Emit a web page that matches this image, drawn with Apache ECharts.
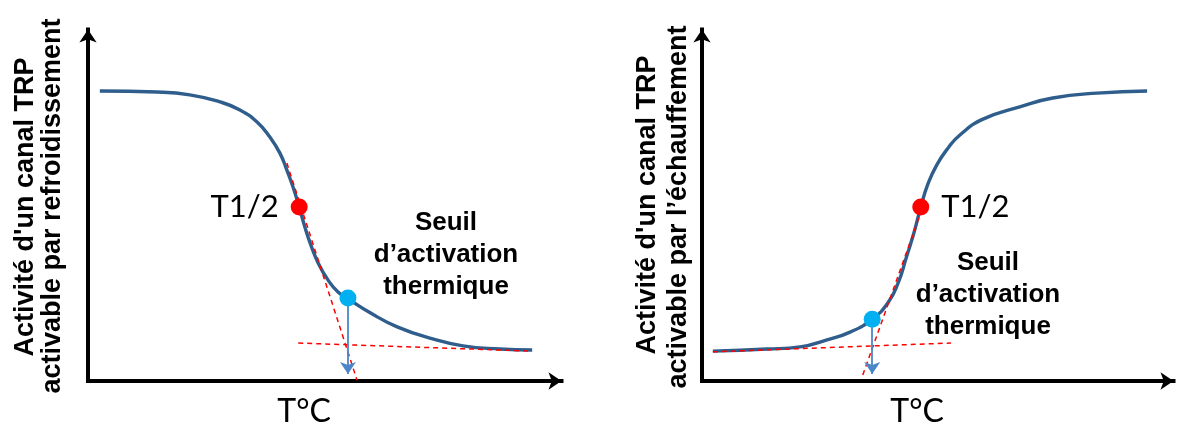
<!DOCTYPE html>
<html><head><meta charset="utf-8">
<script src="https://cdn.jsdelivr.net/npm/echarts@6/dist/echarts.min.js"></script>
<style>html,body{margin:0;padding:0;background:#fff}#c{width:1180px;height:426px}</style>
</head><body><div id="c"></div>
<script>
// ---------- Left panel: channel activated by cooling ----------
const coldX = [2.5, 14.6, 21.5, 27.9, 32.1, 35.7, 38.4, 40.5, 42.0, 43.3, 44.6, 45.8, 46.9, 48.6, 50.7, 52.8, 54.9, 59.6, 65.3, 72.2, 79.2, 87.0, 93.8];
const coldY = [82.5, 82.2, 81.4, 79.4, 77.1, 73.7, 69.4, 64.9, 60.0, 55.2, 49.5, 43.8, 39.3, 33.6, 28.7, 25.3, 23.4, 19.4, 15.4, 12.2, 10.0, 9.1, 8.8];
const coldHalf = [44.6, 49.5];
const coldThreshold = [54.9, 23.6];
const coldTangentX = [42.0, 56.8];
const coldTangentY = [62.0, 0.3];
const coldBaseX = [44.4, 93.8];
const coldBaseY = [10.8, 8.5];
const coldArrowEndY = 2.0;

// ---------- Right panel: channel activated by warming ----------
const warmX = [2.3, 13.8, 20.8, 26.5, 31.4, 36.1, 39.4, 41.6, 43.3, 45.0, 46.4, 47.9, 49.8, 52.2, 54.7, 59.6, 67.4, 74.4, 83.8, 94.4];
const warmY = [8.5, 9.1, 9.7, 11.7, 13.9, 17.6, 22.2, 27.9, 35.0, 42.4, 49.5, 56.0, 61.5, 66.3, 70.0, 74.5, 78.0, 80.5, 81.9, 82.5];
const warmHalf = [46.4, 49.5];
const warmThreshold = [36.1, 17.6];
const warmTangentX = [34.1, 46.2];
const warmTangentY = [1.7, 47.2];
const warmBaseX = [2.3, 52.8];
const warmBaseY = [8.3, 10.8];
const warmArrowEndY = 2.0;

// ---------- Texts ----------
const yLabelCold = ["Activité d'un canal TRP", "activable par refroidissement"];
const yLabelWarm = ["Activité d'un canal TRP", "activable par l’échauffement"];
const halfLabel = "T1/2";
const thresholdLabel = ["Seuil", "d’activation", "thermique"];
const xLabel = "T°C";

const zip = (xs, ys) => xs.map((x, i) => [x, ys[i]]);

const CURVE = '#2f5d8c';
const RED = '#ff0000';
const CYAN = '#00b0f0';
const ARROW = '#4a86c8';

function axisPair(idx) {
  return {
    type: 'value', gridIndex: idx, min: 0, max: 100,
    axisLine: { show: true, symbol: ['none', 'arrow'], symbolSize: [13, 13],
      lineStyle: { color: '#000', width: 4, cap: 'square' } },
    axisTick: { show: false }, axisLabel: { show: false }, splitLine: { show: false }
  };
}

function panelSeries(idx, xs, ys, half, thr, tx, ty, bx, by, arrowEnd, halfPos) {
  return [
    { type: 'line', xAxisIndex: idx, yAxisIndex: idx, data: zip(xs, ys), symbol: 'none',
      smooth: 0.5, lineStyle: { color: CURVE, width: 3.4 }, z: 2 },
    { type: 'line', xAxisIndex: idx, yAxisIndex: idx, data: zip(tx, ty), symbol: 'none',
      lineStyle: { color: RED, width: 1.5, type: [5, 4] }, z: 3 },
    { type: 'line', xAxisIndex: idx, yAxisIndex: idx, data: zip(bx, by), symbol: 'none',
      lineStyle: { color: RED, width: 1.5, type: [5, 4] }, z: 3 },
    { type: 'lines', coordinateSystem: 'cartesian2d', xAxisIndex: idx, yAxisIndex: idx,
      symbol: ['none', 'arrow'], symbolSize: [11, 12],
      lineStyle: { color: ARROW, width: 1.8, opacity: 1 },
      data: [{ coords: [thr, [thr[0], arrowEnd]] }], z: 4 },
    { type: 'scatter', xAxisIndex: idx, yAxisIndex: idx, data: [half], symbolSize: 17,
      itemStyle: { color: RED, opacity: 1 }, z: 6,
      label: { show: true, formatter: halfLabel, position: halfPos, distance: 12,
        fontFamily: 'Lato', fontSize: 31, color: '#000' } },
    { type: 'scatter', xAxisIndex: idx, yAxisIndex: idx, data: [thr], symbolSize: 17,
      itemStyle: { color: CYAN, opacity: 1 }, z: 6 }
  ];
}

function vText(str, x, y) {
  return { type: 'text', x: x, y: y, rotation: Math.PI / 2,
    style: { text: str, x: 0, y: 0, align: 'center', verticalAlign: 'middle',
      font: 'bold 27px "Liberation Sans", Arial, sans-serif', fill: '#000' } };
}
function hText(str, x, y, font) {
  return { type: 'text', x: x, y: y,
    style: { text: str, align: 'center', verticalAlign: 'middle', font: font, fill: '#000' } };
}
const BOLD = 'bold 26px "Liberation Sans", Arial, sans-serif';
const REG = '32px Lato, sans-serif';

const chart = echarts.init(document.getElementById('c'), null, { renderer: 'canvas' });
chart.setOption({
  animation: false,
  backgroundColor: '#fff',
  grid: [
    { left: 88, top: 29.5, width: 473.5, height: 351.5 },
    { left: 702, top: 29.5, width: 471.5, height: 351.5 }
  ],
  xAxis: [axisPair(0), axisPair(1)],
  yAxis: [axisPair(0), axisPair(1)],
  series: [].concat(
    panelSeries(0, coldX, coldY, coldHalf, coldThreshold, coldTangentX, coldTangentY, coldBaseX, coldBaseY, coldArrowEndY, 'left'),
    panelSeries(1, warmX, warmY, warmHalf, warmThreshold, warmTangentX, warmTangentY, warmBaseX, warmBaseY, warmArrowEndY, 'right')
  ),
  graphic: [
    vText(yLabelCold[0], 26, 207),
    vText(yLabelCold[1], 53, 206),
    vText(yLabelWarm[0], 648, 205),
    vText(yLabelWarm[1], 679, 207),
    hText(thresholdLabel[0], 446, 223, BOLD),
    hText(thresholdLabel[1], 446, 255, BOLD),
    hText(thresholdLabel[2], 446, 287, BOLD),
    hText(thresholdLabel[0], 988, 263, BOLD),
    hText(thresholdLabel[1], 988, 295, BOLD),
    hText(thresholdLabel[2], 988, 327, BOLD),
    hText(xLabel, 304, 412, REG),
    hText(xLabel, 917, 412, REG)
  ]
});
</script></body></html>
